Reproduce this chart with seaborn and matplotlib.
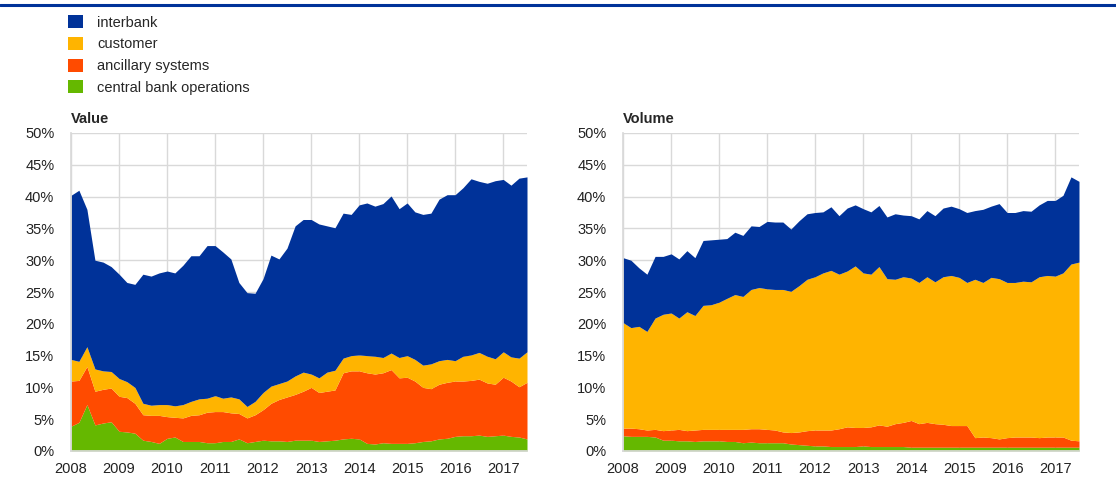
import numpy as np
import pandas as pd
import matplotlib
matplotlib.use("Agg")
import matplotlib.pyplot as plt
import matplotlib.dates as mdates
from matplotlib.patches import Patch
from matplotlib.lines import Line2D
import seaborn as sns

# bi-monthly observations, Jan 2008 .. Jul 2017 (shares in %)
dates = pd.date_range("2008-01-01", periods=58, freq="2MS")

series_names = ["interbank", "customer", "ancillary systems", "central bank operations"]

# VALUE panel
val_cb = [3.9, 4.5, 7.3, 4.1, 4.4, 4.6, 3.1, 3.0, 2.8, 1.7, 1.5, 1.2, 2.0, 2.2, 1.5, 1.5,
          1.5, 1.3, 1.3, 1.5, 1.5, 1.9, 1.3, 1.5, 1.7, 1.6, 1.6, 1.5, 1.7, 1.7, 1.7, 1.5,
          1.6, 1.7, 1.9, 2.0, 1.9, 1.2, 1.1, 1.3, 1.2, 1.2, 1.2, 1.3, 1.5, 1.6, 1.9, 2.0,
          2.3, 2.4, 2.4, 2.5, 2.3, 2.4, 2.5, 2.3, 2.2, 1.9]
val_anc = [7.1, 6.6, 6.0, 5.3, 5.3, 5.3, 5.5, 5.4, 4.7, 4.0, 4.1, 4.4, 3.4, 3.1, 3.7, 4.1,
           4.2, 4.8, 4.9, 4.7, 4.5, 4.0, 3.9, 4.2, 4.8, 5.9, 6.5, 7.0, 7.2, 7.7, 8.3, 7.7,
           7.8, 7.9, 10.4, 10.6, 10.7, 11.1, 11.0, 11.0, 11.6, 10.3, 10.4, 9.7, 8.5, 8.2, 8.6, 8.8,
           8.7, 8.6, 8.7, 8.8, 8.4, 8.1, 9.1, 8.7, 7.9, 8.9]
val_cust = [3.4, 3.0, 3.1, 3.5, 2.9, 2.6, 2.8, 2.5, 2.5, 1.8, 1.6, 1.7, 1.9, 1.8, 2.1, 2.2,
            2.5, 2.2, 2.5, 2.1, 2.5, 2.3, 1.8, 2.1, 2.7, 2.7, 2.5, 2.5, 2.9, 3.0, 2.1, 2.3,
            3.0, 3.1, 2.3, 2.4, 2.5, 2.7, 2.8, 2.4, 2.6, 3.2, 3.4, 3.4, 3.5, 3.9, 3.7, 3.6,
            3.2, 3.9, 4.0, 4.2, 4.2, 4.0, 4.0, 3.8, 4.5, 4.8]
val_inter = [25.8, 26.9, 21.6, 17.1, 17.1, 16.5, 16.4, 15.6, 16.2, 20.3, 20.3, 20.7, 21.0, 20.9, 21.9, 22.9,
             22.5, 24.0, 23.6, 23.0, 21.7, 18.3, 17.9, 17.0, 17.9, 20.6, 19.6, 20.9, 23.6, 24.0, 24.3, 24.2,
             23.0, 22.4, 22.8, 22.2, 23.6, 24.0, 23.6, 24.2, 24.7, 23.4, 24.0, 23.2, 23.7, 23.7, 25.4, 25.9,
             26.1, 26.5, 27.7, 26.9, 27.2, 28.0, 27.1, 27.0, 28.3, 27.5]

# VOLUME panel
vol_cb = [2.4, 2.3, 2.3, 2.3, 2.2, 1.7, 1.7, 1.6, 1.6, 1.5, 1.6, 1.6, 1.6, 1.5, 1.5, 1.3,
          1.4, 1.3, 1.3, 1.3, 1.3, 1.1, 1.0, 0.9, 0.8, 0.8, 0.7, 0.7, 0.7, 0.7, 0.8, 0.7,
          0.7, 0.7, 0.7, 0.7, 0.6, 0.6, 0.6, 0.6, 0.6, 0.6, 0.6, 0.6, 0.6, 0.6, 0.6, 0.6,
          0.6, 0.6, 0.6, 0.6, 0.6, 0.6, 0.6, 0.6, 0.6, 0.6]
vol_anc = [1.2, 1.3, 1.2, 1.0, 1.2, 1.5, 1.6, 1.8, 1.6, 1.8, 1.8, 1.8, 1.8, 1.9, 1.9, 2.1,
           2.1, 2.2, 2.1, 2.0, 1.7, 1.8, 2.0, 2.3, 2.5, 2.5, 2.6, 2.8, 3.1, 3.0, 2.9, 3.1,
           3.4, 3.2, 3.6, 3.8, 4.2, 3.7, 3.9, 3.7, 3.6, 3.4, 3.4, 3.4, 1.5, 1.6, 1.5, 1.3,
           1.5, 1.6, 1.6, 1.6, 1.5, 1.6, 1.6, 1.6, 1.1, 1.0]
vol_cust = [16.6, 15.8, 16.1, 15.5, 17.5, 18.3, 18.4, 17.5, 18.7, 18.0, 19.5, 19.6, 20.0, 20.6, 21.2, 20.9,
            21.9, 22.2, 22.1, 22.1, 22.4, 22.2, 23.0, 23.8, 24.1, 24.7, 25.1, 24.3, 24.5, 25.4, 24.3, 24.0,
            24.9, 23.2, 22.7, 22.9, 22.4, 22.2, 22.9, 22.3, 23.2, 23.6, 23.3, 22.5, 24.9, 24.3, 25.2, 25.2,
            24.4, 24.3, 24.5, 24.4, 25.3, 25.4, 25.3, 25.8, 27.7, 28.1]
vol_inter = [10.2, 10.6, 9.2, 9.0, 9.7, 9.1, 9.3, 9.3, 9.6, 9.1, 10.2, 10.2, 9.9, 9.4, 9.8, 9.6,
             10.0, 9.6, 10.6, 10.6, 10.6, 9.8, 10.2, 10.3, 10.1, 9.6, 10.0, 9.2, 9.9, 9.6, 10.1, 9.8,
             9.6, 9.7, 10.3, 9.7, 9.8, 10.0, 10.4, 10.4, 10.8, 10.9, 10.8, 11.0, 10.8, 11.5, 11.2, 11.8,
             11.0, 11.0, 11.1, 11.1, 11.3, 11.8, 11.9, 12.2, 13.7, 12.7]

years = list(range(2008, 2018))
y_ticks = list(range(0, 51, 5))

palette = sns.color_palette(["#003299", "#FFB400", "#FF4B00", "#65B800"])

sns.set_theme(style="whitegrid", rc={"grid.color": "#d9d9d9", "grid.linewidth": 1.0,
                                     "axes.edgecolor": "#d9d9d9"})
plt.rcParams["font.family"] = ["Liberation Sans", "DejaVu Sans"]

fig = plt.figure(figsize=(11.16, 4.99), dpi=100)

ax_w = 456 / 1116
ax_h = 318 / 499
ax_b = 1 - 451 / 499
axes = [fig.add_axes([71 / 1116, ax_b, ax_w, ax_h]),
        fig.add_axes([623 / 1116, ax_b, ax_w, ax_h])]

panels = [("Value", [val_cb, val_anc, val_cust, val_inter]),
          ("Volume", [vol_cb, vol_anc, vol_cust, vol_inter])]

for ax, (title, data) in zip(axes, panels):
    # bottom -> top: central bank, ancillary, customer, interbank
    ax.stackplot(dates, *data, colors=[palette[3], palette[2], palette[1], palette[0]],
                 linewidth=0, zorder=2)
    ax.set_xlim(dates[0], dates[-1])
    ax.set_ylim(0, 50)
    ax.set_yticks(y_ticks)
    ax.set_yticklabels([f"{t}%" for t in y_ticks])
    ax.set_xticks([pd.Timestamp(f"{y}-01-01") for y in years])
    ax.xaxis.set_major_formatter(mdates.DateFormatter("%Y"))
    ax.tick_params(axis="both", length=0, labelsize=10.5, colors="#222222")
    ax.tick_params(axis="y", pad=12)
    ax.tick_params(axis="x", pad=8)
    ax.set_axisbelow(True)
    ax.grid(True, zorder=0)
    for s in ["top", "right"]:
        ax.spines[s].set_visible(False)
    ax.spines["left"].set_color("#d9d9d9")
    ax.spines["bottom"].set_color("#d9d9d9")
    ax.set_title(title, loc="left", fontweight="bold", fontsize=10.5, pad=7)

# blue rule at the top
fig.add_artist(Line2D([0, 1], [1 - 5 / 499, 1 - 5 / 499], color=palette[0], linewidth=2.2))

handles = [Patch(facecolor=palette[i], edgecolor="none") for i in range(4)]
fig.legend(handles, series_names, loc="upper left", bbox_to_anchor=(68 / 1116, 1 - 15 / 499),
           frameon=False, fontsize=10.5, handlelength=1.0, handleheight=1.0,
           handletextpad=1.0, labelspacing=0.5, borderpad=0, borderaxespad=0)

fig.savefig("out.png", dpi=100)
